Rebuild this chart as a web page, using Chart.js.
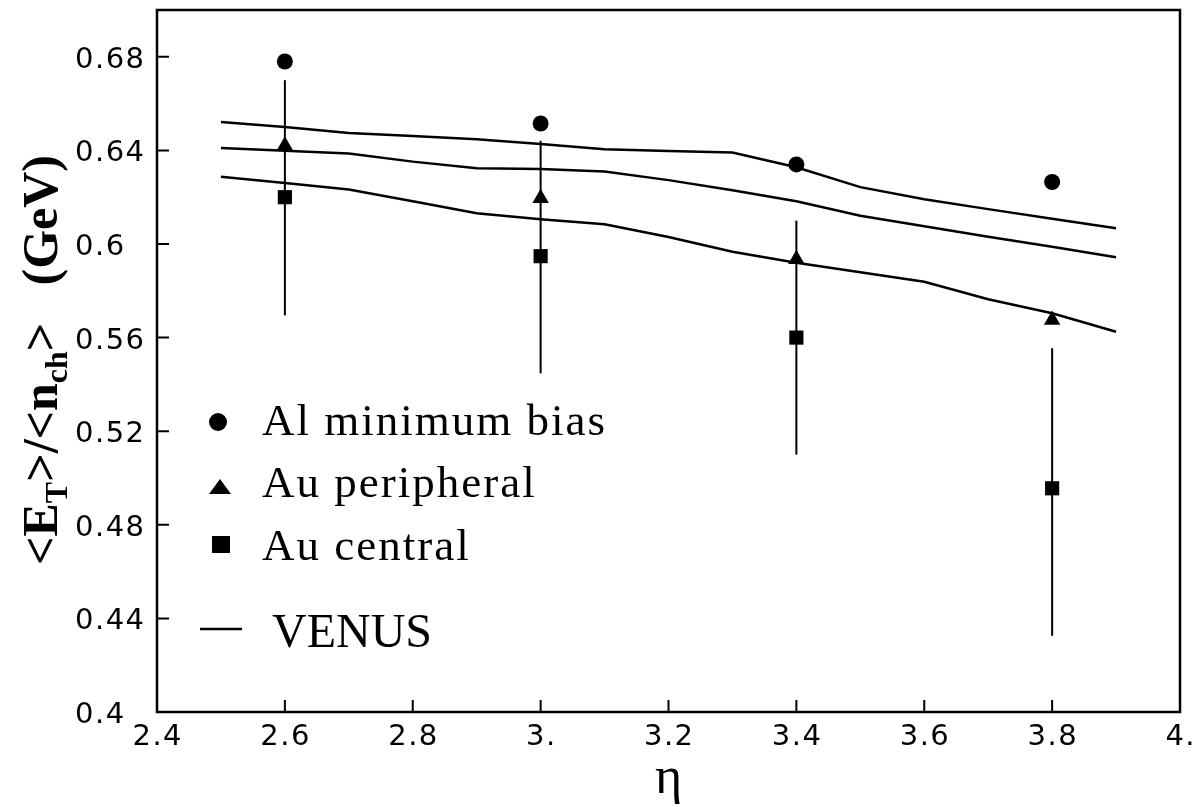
<!DOCTYPE html>
<html>
<head>
<meta charset="utf-8">
<script src="https://cdn.jsdelivr.net/npm/chart.js@4.4.1/dist/chart.umd.min.js"></script>
<style>
  html, body { margin: 0; padding: 0; background: #fff; }
  #wrap { width: 1204px; height: 807px; }
</style>
</head>
<body>
<div id="wrap"><canvas id="etChart" width="1204" height="807"></canvas></div>
<script>
// measured points (eta)
const etaPoints = [2.6, 3.0, 3.4, 3.8];
const alMinBias = [0.678, 0.6515, 0.634, 0.6265];
const auPeripheral = [0.642, 0.6196, 0.5935, 0.5675];
const auCentral = [0.620, 0.5948, 0.560, 0.4956];
const auCentralLow = [0.5695, 0.5447, 0.510, 0.4326];
const auCentralHigh = [0.670, 0.6441, 0.610, 0.5555];

// VENUS model curves
const venusEta = [2.5, 2.6, 2.7, 2.8, 2.9, 3.0, 3.1, 3.2, 3.3, 3.4, 3.5, 3.6, 3.7, 3.8, 3.9];
const venusUpper = [0.6521, 0.6500, 0.6474, 0.6462, 0.6448, 0.6427, 0.6405, 0.6397, 0.6391, 0.6328, 0.6243, 0.6191, 0.6149, 0.6108, 0.6067];
const venusMiddle = [0.6410, 0.6398, 0.6387, 0.6352, 0.6324, 0.6320, 0.6310, 0.6273, 0.6230, 0.6183, 0.6121, 0.6076, 0.6031, 0.5988, 0.5943];
const venusLower = [0.6287, 0.6261, 0.6233, 0.6183, 0.6131, 0.6106, 0.6084, 0.6030, 0.5967, 0.5920, 0.5879, 0.5839, 0.5764, 0.5704, 0.5625];

// axis ticks
const xTickValues = [2.4, 2.6, 2.8, 3.0, 3.2, 3.4, 3.6, 3.8, 4.0];
const xTickLabels = ['2.4', '2.6', '2.8', '3.', '3.2', '3.4', '3.6', '3.8', '4.'];
const yTickValues = [0.4, 0.44, 0.48, 0.52, 0.56, 0.6, 0.64, 0.68];
const yTickLabels = ['0.4', '0.44', '0.48', '0.52', '0.56', '0.6', '0.64', '0.68'];

const toXY = (xs, ys) => xs.map((x, i) => ({ x: x, y: ys[i] }));

const venusLine = (ys, label) => ({
    label: label,
    data: toXY(venusEta, ys),
    showLine: true,
    borderColor: '#000',
    borderWidth: 2.5,
    pointRadius: 0,
    fill: false
});

// error bars of the Au central points, drawn under the markers
const errorBars = {
    id: 'errorBars',
    beforeDatasetsDraw(chart) {
        const { ctx, scales: { x, y } } = chart;
        ctx.save();
        ctx.strokeStyle = '#000';
        ctx.lineWidth = 2;
        etaPoints.forEach((eta, i) => {
            const px = x.getPixelForValue(eta);
            ctx.beginPath();
            ctx.moveTo(px, y.getPixelForValue(auCentralLow[i]));
            ctx.lineTo(px, y.getPixelForValue(auCentralHigh[i]));
            ctx.stroke();
        });
        ctx.restore();
    }
};

// frame, inward ticks, tick labels, axis titles and the inset legend
const decorations = {
    id: 'decorations',
    afterDraw(chart) {
        const { ctx, chartArea: a, scales: { x, y } } = chart;
        ctx.save();
        ctx.strokeStyle = '#000';
        ctx.fillStyle = '#000';
        ctx.lineWidth = 2.5;
        ctx.strokeRect(a.left, a.top, a.right - a.left, a.bottom - a.top);

        ctx.lineWidth = 2;
        ctx.beginPath();
        x.ticks.forEach(t => {
            const px = x.getPixelForValue(t.value);
            ctx.moveTo(px, a.bottom);
            ctx.lineTo(px, a.bottom - 12);
        });
        y.ticks.forEach(t => {
            const py = y.getPixelForValue(t.value);
            ctx.moveTo(a.left, py);
            ctx.lineTo(a.left + 12, py);
        });
        ctx.stroke();

        // tick labels (slightly spaced like the original plotting font)
        ctx.font = '29px "DejaVu Sans"';
        ctx.letterSpacing = '1.5px';
        ctx.textBaseline = 'alphabetic';
        ctx.textAlign = 'left';
        x.ticks.forEach((t, i) => {
            const label = xTickLabels[i];
            const w = ctx.measureText(label).width - 1.5;
            ctx.fillText(label, x.getPixelForValue(t.value) - w / 2, 745);
        });
        y.ticks.forEach((t, i) => {
            ctx.fillText(yTickLabels[i], 75, y.getPixelForValue(t.value) + 11);
        });
        ctx.letterSpacing = '0px';

        // x title
        ctx.font = '52px "Liberation Serif"';
        ctx.textAlign = 'center';
        ctx.fillText('η', (a.left + a.right) / 2, 793);

        // y title, rotated, with subscripts
        ctx.save();
        ctx.translate(57, 565);
        ctx.rotate(-Math.PI / 2);
        ctx.textAlign = 'left';
        const main = 'bold 50px "Liberation Serif"';
        const sub = 'bold 32px "Liberation Serif"';
        const parts = [['<E', main, 0], ['T', sub, 10], ['>/<n', main, 0], ['ch', sub, 10], ['>', main, 0]];
        let cx = 0;
        parts.forEach(([txt, f, dy]) => {
            ctx.font = f;
            ctx.fillText(txt, cx, dy);
            cx += ctx.measureText(txt).width;
        });
        ctx.font = main;
        ctx.textAlign = 'right';
        ctx.fillText('(GeV)', 410, 0);
        ctx.restore();

        // legend
        ctx.beginPath();
        ctx.arc(218, 422, 9, 0, Math.PI * 2);
        ctx.fill();
        ctx.beginPath();
        ctx.moveTo(220, 479);
        ctx.lineTo(231, 494);
        ctx.lineTo(209, 494);
        ctx.closePath();
        ctx.fill();
        ctx.fillRect(212, 536, 18, 17);

        ctx.font = '45px "Liberation Serif"';
        ctx.textAlign = 'left';
        ctx.letterSpacing = '2px';
        ctx.fillText('Al minimum bias', 262, 435);
        ctx.fillText('Au peripheral', 262, 497);
        ctx.fillText('Au central', 262, 560);
        ctx.letterSpacing = '0px';

        ctx.lineWidth = 2.5;
        ctx.beginPath();
        ctx.moveTo(200, 629);
        ctx.lineTo(242, 629);
        ctx.stroke();
        ctx.font = '48px "Liberation Serif"';
        ctx.fillText('VENUS', 272, 647);
        ctx.restore();
    }
};

new Chart(document.getElementById('etChart'), {
    type: 'scatter',
    data: {
        datasets: [
            venusLine(venusUpper, 'VENUS'),
            venusLine(venusMiddle, 'VENUS'),
            venusLine(venusLower, 'VENUS'),
            {
                label: 'Al minimum bias',
                data: toXY(etaPoints, alMinBias),
                pointStyle: 'circle',
                pointRadius: 8,
                backgroundColor: '#000',
                borderColor: '#000',
                borderWidth: 0
            },
            {
                label: 'Au peripheral',
                data: toXY(etaPoints, auPeripheral),
                pointStyle: 'triangle',
                pointRadius: 9.5,
                backgroundColor: '#000',
                borderColor: '#000',
                borderWidth: 0
            },
            {
                label: 'Au central',
                data: toXY(etaPoints, auCentral),
                pointStyle: 'rect',
                pointRadius: 10,
                backgroundColor: '#000',
                borderColor: '#000',
                borderWidth: 0
            }
        ]
    },
    options: {
        responsive: false,
        animation: false,
        layout: { padding: { left: 76, top: 10, right: 24, bottom: 0 } },
        plugins: {
            legend: { display: false },
            tooltip: { enabled: false }
        },
        scales: {
            x: {
                type: 'linear',
                min: 2.4,
                max: 4.0,
                grid: { display: false },
                border: { display: false },
                afterBuildTicks: s => { s.ticks = xTickValues.map(v => ({ value: v })); },
                afterFit: s => { s.height = 95; },
                ticks: { display: false }
            },
            y: {
                type: 'linear',
                min: 0.4,
                max: 0.7,
                grid: { display: false },
                border: { display: false },
                afterBuildTicks: s => { s.ticks = yTickValues.map(v => ({ value: v })); },
                afterFit: s => { s.width = 81; },
                ticks: { display: false }
            }
        }
    },
    plugins: [errorBars, decorations]
});
</script>
</body>
</html>
